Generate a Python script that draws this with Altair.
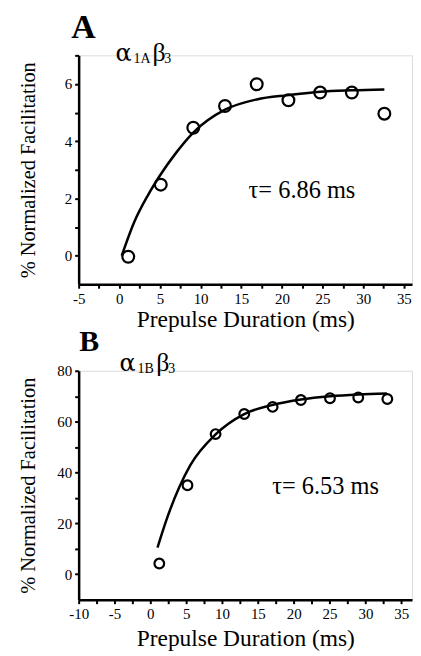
import altair as alt
import pandas as pd

# ---- Panel A data (alpha1A beta3) ----
a_x = [1.1, 5.1, 9.1, 13.0, 16.9, 20.8, 24.7, 28.6, 32.6]
a_y = [-0.04, 2.48, 4.47, 5.23, 5.99, 5.43, 5.70, 5.70, 4.96]
a_fit_x = [0.3, 1.8, 3.5, 5.0, 7.0, 9.1, 13.0, 16.9, 20.8, 24.7, 28.6, 32.6]
a_fit_y = [0.0, 1.15, 2.1, 2.8, 3.6, 4.3, 5.1, 5.46, 5.61, 5.73, 5.78, 5.81]

# ---- Panel B data (alpha1B beta3) ----
b_x = [1.25, 5.18, 9.1, 13.1, 17.06, 21.0, 25.06, 29.0, 33.06]
b_y = [4.2, 35.0, 55.1, 63.0, 65.8, 68.5, 69.2, 69.5, 68.9]
b_fit_x = [1.0, 2.2, 4.0, 5.6, 9.1, 13.1, 17.1, 21.0, 25.1, 29.0, 33.0]
b_fit_y = [10.5, 21.0, 34.0, 43.0, 55.0, 63.0, 66.6, 68.7, 70.0, 70.7, 71.1]

a_xticks = [-5, -2.5, 0, 2.5, 5, 7.5, 10, 12.5, 15, 17.5, 20, 22.5, 25, 27.5, 30, 32.5, 35]
a_yticks = [0, 1, 2, 3, 4, 5, 6, 7]
b_xticks = [-10, -7.5, -5, -2.5, 0, 2.5, 5, 7.5, 10, 12.5, 15, 17.5, 20, 22.5, 25, 27.5, 30, 32.5, 35]
b_yticks = [0, 10, 20, 30, 40, 50, 60, 70, 80]

FONT = "Liberation Serif"


def panel(px, py, fx, fy, xdom, ydom, xticks, yticks, ylab_step, letter, letter_xy,
          letter_size, sub_small, sub_xy, sub_dx, tau_text, tau_xy, psize, xtitle_pad):
    pts = pd.DataFrame({"x": px, "y": py})
    fit = pd.DataFrame({"x": fx, "y": fy})
    xs = alt.Scale(domain=xdom, nice=False, zero=False)
    ys = alt.Scale(domain=ydom, nice=False, zero=False)
    xaxis = alt.Axis(
        title="Prepulse Duration (ms)", values=xticks,
        labelExpr="datum.value % 5 === 0 ? '' + datum.value : ''",
        labelOverlap=False, labelBound=False,
        grid=False, domainColor="black", domainWidth=2.5, tickColor="black",
        tickWidth=2, tickSize=4, labelFont=FONT, labelFontSize=15, labelColor="black",
        labelPadding=3, titleFont=FONT, titleFontSize=23.5, titleFontWeight="normal",
        titleColor="black", titlePadding=xtitle_pad, labelFlush=False,
    )
    yaxis = alt.Axis(
        title="% Normalized Facilitation", values=yticks,
        labelExpr=f"datum.value % {ylab_step} === 0 ? '' + datum.value : ''",
        labelOverlap=False, labelBound=False,
        grid=False, domainColor="black", domainWidth=2.5, tickColor="black",
        tickWidth=2, tickSize=4, labelFont=FONT, labelFontSize=15, labelColor="black",
        labelPadding=3, titleFont=FONT, titleFontSize=20.5, titleFontWeight="normal",
        titleColor="black", titlePadding=10, minExtent=30, maxExtent=30, labelFlush=False,
    )
    line = alt.Chart(fit).mark_line(color="black", strokeWidth=2.5, interpolate="monotone").encode(
        x=alt.X("x:Q", scale=xs, axis=xaxis),
        y=alt.Y("y:Q", scale=ys, axis=yaxis),
    )
    points = alt.Chart(pts).mark_point(shape="circle", filled=False, color="black",
                                       strokeWidth=2.2, size=psize, opacity=1).encode(
        x=alt.X("x:Q", scale=xs, axis=xaxis), y=alt.Y("y:Q", scale=ys, axis=yaxis))

    def txt(s, xy, size, weight="normal", dx=0, dy=0, font=FONT):
        d = pd.DataFrame({"x": [xy[0]], "y": [xy[1]], "t": [s]})
        return alt.Chart(d).mark_text(font=font, fontSize=size, fontWeight=weight, color="black",
                                      align="left", baseline="alphabetic", dx=dx, dy=dy).encode(
            x=alt.X("x:Q", scale=xs, axis=xaxis), y=alt.Y("y:Q", scale=ys, axis=yaxis), text="t:N")

    layers = [line, points,
              txt(letter, letter_xy, letter_size, "bold"),
              txt("α", sub_xy, 24, dx=sub_dx, font="DejaVu Serif"),
              txt(sub_small, sub_xy, 14, dx=sub_dx + 18, dy=2),
              txt("β", sub_xy, 26, dx=sub_dx + 37),
              txt("3", sub_xy, 14, dx=sub_dx + 49, dy=2),
              txt(tau_text, tau_xy, 24.5)]
    return alt.layer(*layers).properties(width=335, height=230)


pa = panel(a_x, a_y, a_fit_x, a_fit_y, [-5, 36], [-1, 7], a_xticks, a_yticks, 2,
           "A", (-5.9, 7.62), 34, "1A", (-0.7, 6.8), 2, "τ= 6.86 ms", (15.9, 2.0), 140, 1)
pb = panel(b_x, b_y, b_fit_x, b_fit_y, [-10, 36.5], [-10, 80], b_xticks, b_yticks, 20,
           "B", (-9.9, 87.8), 30, "1B", (-4.3, 80), 0, "τ= 6.53 ms", (17.0, 31.4), 95, 5)

chart = alt.vconcat(pa, pb, spacing=-5).properties(
    padding={"left": 10, "top": 0, "right": 0, "bottom": 0}
).configure_view(stroke=None).configure_axis(labelOverlap=False).configure(background="white")

chart.save("out.html", embed_options={"renderer": "svg", "actions": False})
